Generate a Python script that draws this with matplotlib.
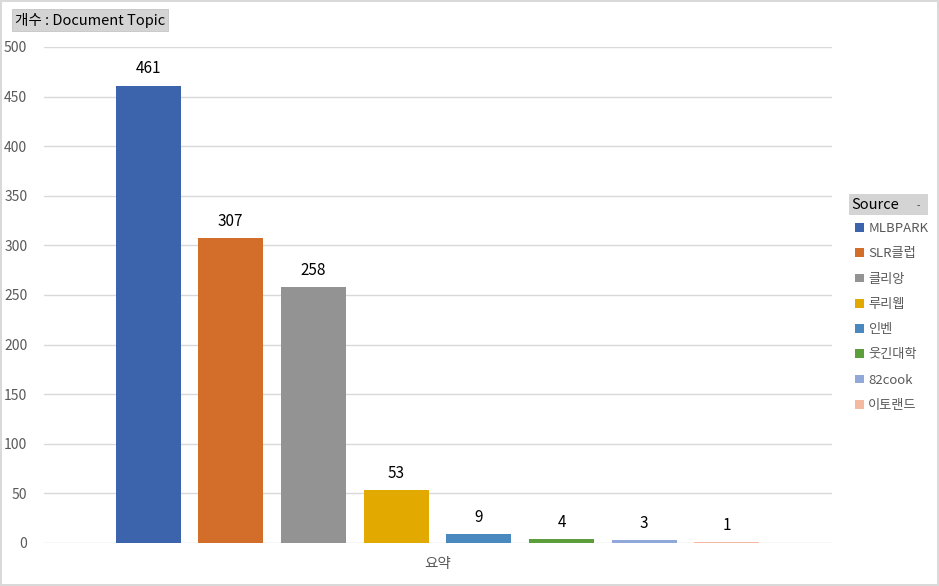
import matplotlib.pyplot as plt
import numpy as np
from matplotlib.patches import Rectangle

plt.rcParams['font.family'] = ['Noto Sans CJK KR', 'DejaVu Sans']

# data
sources = ['MLBPARK', 'SLR클럽', '클리앙', '루리웹', '인벤', '웃긴대학', '82cook', '이토랜드']
counts = [461, 307, 258, 53, 9, 4, 3, 1]
colors = ['#3C64AD', '#D26E2A', '#939393', '#E2AA00', '#4A89C0', '#5C9E3B', '#91A8DB', '#F4B9A0']
category = '요약'
y_ticks = [0, 50, 100, 150, 200, 250, 300, 350, 400, 450, 500]

W, H = 939, 586
fig = plt.figure(figsize=(W / 100, H / 100), dpi=100)
fig.patch.set_edgecolor('#D9D9D9')
fig.patch.set_linewidth(1.5)

left, right, bottom, top = 44, 832, 543, 47
ax = fig.add_axes([left / W, 1 - bottom / H, (right - left) / W, (bottom - top) / H])

x = np.arange(len(sources))
bars = ax.bar(x, counts, width=0.786, color=colors, zorder=3)
for b, v in zip(bars, counts):
    ax.annotate(str(v), (b.get_x() + b.get_width() / 2, v), xytext=(0, 6),
                textcoords='offset points', ha='center', va='bottom',
                fontsize=11, color='black')

ax.set_xlim(-1.258, 8.27)
ax.set_ylim(0, 500)
ax.set_yticks(y_ticks)
ax.set_xticks([(len(sources) - 1) / 2])
ax.set_xticklabels([category])
ax.grid(axis='y', color='#D9D9D9', linewidth=1, zorder=0)
for s in ax.spines.values():
    s.set_visible(False)
ax.tick_params(axis='both', length=0, labelsize=10, colors='#595959')
ax.tick_params(axis='x', labelsize=10.5, pad=10)
ax.tick_params(axis='y', pad=12)

# field button at top-left
fig.text(15 / W, 1 - 20 / H, '개수 : Document Topic', fontsize=10.5, color='black',
         va='center', ha='left',
         bbox=dict(boxstyle='square,pad=0.22', facecolor='#D4D4D4', edgecolor='#C4C4C4', linewidth=0.6))

# legend with Source header button
leg = fig.legend(bars, sources, loc='upper left', bbox_to_anchor=(855 / W, 1 - 222 / H),
                 frameon=False, fontsize=9.5, handlelength=0.65, handleheight=0.65,
                 handletextpad=0.35, labelspacing=0.93, borderaxespad=0, borderpad=0)
for t in leg.get_texts():
    t.set_color('#595959')
fig.patches.append(Rectangle((849 / W, 1 - 215 / H), 79 / W, 21 / H, transform=fig.transFigure,
                             facecolor='#D4D4D4', edgecolor='none'))
fig.text(851 / W, 1 - 205 / H, 'Source', fontsize=10.5, color='black', va='center', ha='left')
fig.text(918 / W, 1 - 206 / H, '-', fontsize=7, color='#404040', va='center', ha='center')

fig.savefig('out.png', dpi=100)
